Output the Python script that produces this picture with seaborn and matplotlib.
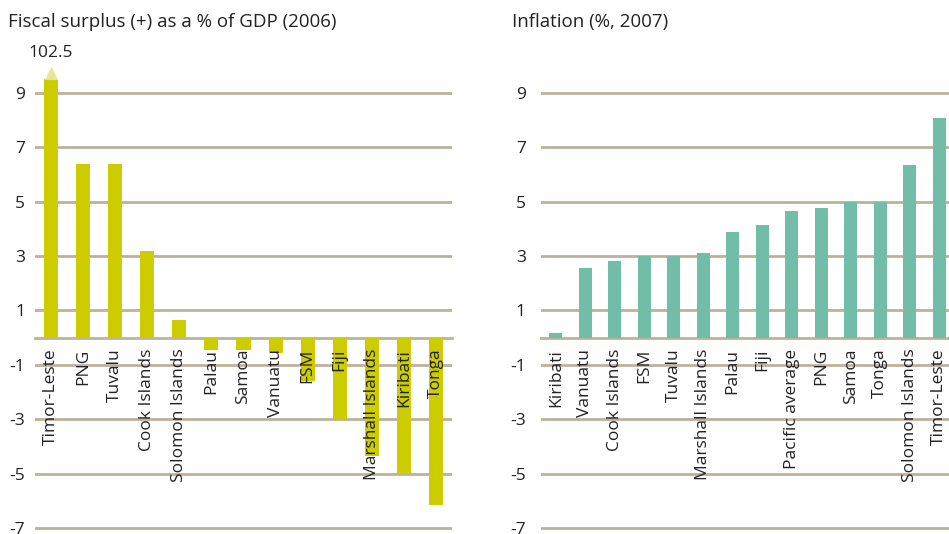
import numpy as np
import matplotlib
matplotlib.use("Agg")
import matplotlib.pyplot as plt
import seaborn as sns

# fiscal surplus (+) as % of GDP, 2006
fiscal_countries = ["Timor-Leste", "PNG", "Tuvalu", "Cook Islands", "Solomon Islands",
                    "Palau", "Samoa", "Vanuatu", "FSM", "Fiji", "Marshall Islands",
                    "Kiribati", "Tonga"]
fiscal_values = [102.5, 6.4, 6.4, 3.2, 0.63, -0.45, -0.45, -0.55, -1.6, -3.0, -4.35, -5.0, -6.15]

# inflation (%), 2007
infl_countries = ["Kiribati", "Vanuatu", "Cook Islands", "FSM", "Tuvalu", "Marshall Islands",
                  "Palau", "Fiji", "Pacific average", "PNG", "Samoa", "Tonga",
                  "Solomon Islands", "Timor-Leste"]
infl_values = [0.18, 2.55, 2.8, 3.0, 3.0, 3.1, 3.9, 4.13, 4.67, 4.77, 5.0, 5.0, 6.33, 8.07]

yticks = [-7, -5, -3, -1, 1, 3, 5, 7, 9]
cap = 9.5

sns.set_style("white")
plt.rcParams['font.family'] = ['Open Sans', 'DejaVu Sans']

grid_col = "#bcb199"
text_col = "#222222"

fig = plt.figure(figsize=(9.49, 5.34), dpi=100)
W, H = 949, 534
px = 27.2  # pixels per unit


def make_ax(left_px, width_px):
    ax = fig.add_axes([left_px / W, (H - 528 - 0.2 * px) / H, width_px / W, 17.2 * px / H])
    ax.set_ylim(-7.2, 10)
    return ax


def style(ax, n, pad):
    ax.set_xlim(-0.5, n - 0.5)
    ax.set_yticks(yticks)
    ax.set_yticklabels([str(t) for t in yticks])
    for t in yticks:
        ax.axhline(t, color=grid_col, lw=2, zorder=0)
    for s in ["top", "right", "left"]:
        ax.spines[s].set_visible(False)
    ax.spines["bottom"].set_position(("data", 0))
    ax.spines["bottom"].set_color(grid_col)
    ax.spines["bottom"].set_linewidth(2)
    ax.spines["bottom"].set_zorder(0)
    ax.set_xticks(np.arange(-0.5, n, 1.0), minor=True)
    ax.tick_params(axis="x", which="minor", length=5, width=1.5, color=grid_col, direction="out")
    ax.tick_params(axis="x", which="major", length=0, pad=8, labelsize=12.5, labelcolor=text_col,
                   labelrotation=90)
    ax.tick_params(axis="y", length=0, pad=pad, labelsize=12.5, labelcolor=text_col)
    for lab in ax.get_xticklabels():
        lab.set_va("top")
    ax.xaxis.set_zorder(5)
    ax.set_xlabel("")
    ax.set_ylabel("")
    ax.set_facecolor("none")


# left panel
ax1 = make_ax(35, 417)
shown = np.minimum(fiscal_values, cap)
sns.barplot(x=fiscal_countries, y=shown, color="#cccc00", saturation=1, width=0.44,
            linewidth=0, edgecolor="none", ax=ax1, zorder=2)
style(ax1, len(fiscal_countries), 7)
ax1.scatter([0], [cap + 0.22], marker="^", s=90, color="#e6e69a", linewidths=0, zorder=3, clip_on=False)
ax1.text(0, 10.45, f"{fiscal_values[0]}", ha="center", va="center", fontsize=12.5,
         color=text_col, clip_on=False)

# right panel
ax2 = make_ax(541, 413)
sns.barplot(x=infl_countries, y=infl_values, color="#72bda8", saturation=1, width=0.44,
            linewidth=0, edgecolor="none", ax=ax2, zorder=2)
style(ax2, len(infl_countries), 11)

fig.text(8 / W, 1 - 22 / H, "Fiscal surplus (+) as a % of GDP (2006)", ha="left", va="center",
         fontsize=13.5, color=text_col)
fig.text(512 / W, 1 - 22 / H, "Inflation (%, 2007)", ha="left", va="center",
         fontsize=13.5, color=text_col)

fig.savefig("out.png", dpi=100)
